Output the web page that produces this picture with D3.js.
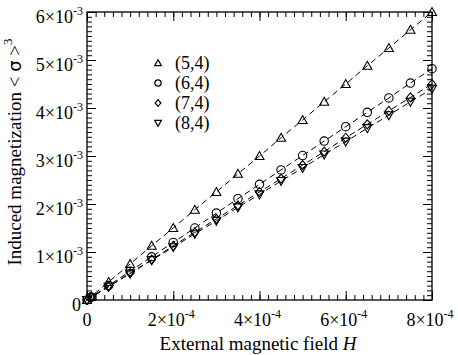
<!DOCTYPE html>
<html>
<head>
<meta charset="utf-8">
<script src="https://cdn.jsdelivr.net/npm/d3@7"></script>
<style>
  body { margin: 0; background: #fff; }
  svg text { font-family: "Liberation Serif", "DejaVu Serif", serif; fill: #000; }
</style>
</head>
<body>
<div id="chart"></div>
<script>
// field values H (units of 1e-4)
var fieldH = [0, 0.1, 0.5, 1, 1.5, 2, 2.5, 3, 3.5, 4, 4.5, 5, 5.5, 6, 6.5, 7, 7.5, 8];
// induced magnetization (units of 1e-3)
var mag54 = [0, 0.075, 0.375, 0.75, 1.13, 1.5, 1.88, 2.25, 2.63, 3.0, 3.38, 3.75, 4.13, 4.5, 4.88, 5.25, 5.63, 6.0];
var mag64 = [0, 0.06, 0.3, 0.6, 0.9, 1.2, 1.5, 1.81, 2.11, 2.41, 2.71, 3.01, 3.31, 3.61, 3.91, 4.21, 4.52, 4.82];
var mag74 = [0, 0.056, 0.28, 0.56, 0.84, 1.13, 1.41, 1.69, 1.97, 2.25, 2.53, 2.81, 3.09, 3.38, 3.66, 3.94, 4.22, 4.5];
var mag84 = [0, 0.055, 0.275, 0.55, 0.83, 1.1, 1.38, 1.65, 1.93, 2.2, 2.48, 2.75, 3.03, 3.3, 3.58, 3.85, 4.13, 4.4];
var seriesNames = ["(5,4)", "(6,4)", "(7,4)", "(8,4)"];
var seriesShapes = ["triUp", "circle", "diamond", "triDown"];
var xTickVals = [0, 2, 4, 6, 8];
var yTickVals = [0, 1, 2, 3, 4, 5, 6];

var W = 458, H = 355;
var m = {left: 87, top: 12, right: 26, bottom: 55};
var w = W - m.left - m.right, h = H - m.top - m.bottom;

var svg = d3.select("#chart").append("svg").attr("width", W).attr("height", H);
var g = svg.append("g").attr("transform", "translate(" + m.left + "," + m.top + ")");

var x = d3.scaleLinear().domain([0, 8]).range([0, w]);
var y = d3.scaleLinear().domain([0, 6]).range([h, 0]);

// ticks, inward on all four sides
function tickAxis(axis, scale, vals, size, tr) {
  var a = g.append("g").attr("transform", tr)
    .call(axis(scale).tickValues(vals).tickSize(size).tickSizeOuter(0).tickFormat(""));
  a.select(".domain").remove();
  a.selectAll("line").attr("stroke", "#000").attr("stroke-width", 1);
}
var xMinor = d3.range(0, 8.001, 0.2);
var yMinor = d3.range(0, 6.001, 0.1);
tickAxis(d3.axisBottom, x, xMinor, -5, "translate(0," + h + ")");
tickAxis(d3.axisBottom, x, xTickVals, -9, "translate(0," + h + ")");
tickAxis(d3.axisTop, x, xMinor, -5, "translate(0,0)");
tickAxis(d3.axisTop, x, xTickVals, -9, "translate(0,0)");
tickAxis(d3.axisLeft, y, yMinor, -5, "translate(0,0)");
tickAxis(d3.axisLeft, y, yTickVals, -9, "translate(0,0)");
tickAxis(d3.axisRight, y, yMinor, -5, "translate(" + w + ",0)");
tickAxis(d3.axisRight, y, yTickVals, -9, "translate(" + w + ",0)");

g.append("rect").attr("width", w).attr("height", h)
  .attr("fill", "none").attr("stroke", "#000").attr("stroke-width", 1.3);

// tick labels with powers of ten
function sciLabel(sel, v, exp) {
  if (v === 0) { sel.text("0"); return; }
  sel.append("tspan").text(v + "\u00d710");
  sel.append("tspan").attr("dy", -8).attr("font-size", 12).text("-" + exp);
}
xTickVals.forEach(function(v) {
  var t = g.append("text").attr("x", x(v) + (v === 0 ? 0 : -2)).attr("y", h + 26)
    .attr("text-anchor", "middle").attr("font-size", 18);
  sciLabel(t, v, 4);
});
yTickVals.forEach(function(v) {
  var t = g.append("text").attr("x", v === 0 ? -6 : -4).attr("y", y(v) + 11)
    .attr("text-anchor", "end").attr("font-size", 18);
  sciLabel(t, v, 3);
});

// axis titles
var xt = svg.append("text").attr("x", 258).attr("y", 350)
  .attr("text-anchor", "middle").attr("font-size", 19);
xt.append("tspan").text("External magnetic field  ");
xt.append("tspan").attr("font-style", "italic").text("H");

var yt = svg.append("text").attr("transform", "translate(21,152) rotate(-90)")
  .attr("text-anchor", "middle").attr("font-size", 19);
yt.append("tspan").text("Induced magnetization  < ");
yt.append("tspan").attr("font-family", "DejaVu Sans").attr("font-size", 18).text("\u03c3");
yt.append("tspan").text(" >");
yt.append("tspan").attr("dy", -9).attr("font-size", 13).text("3");

// markers
function marker(sel, shape, s) {
  var p;
  if (shape === "circle") {
    return sel.append("circle").attr("r", 4.2 * s);
  }
  if (shape === "triUp") p = [[0, -4.5], [4.5, 3.5], [-4.5, 3.5]];
  if (shape === "triDown") p = [[0, 4.5], [4.5, -3.5], [-4.5, -3.5]];
  if (shape === "diamond") p = [[0, -4.5], [3.8, 0], [0, 4.5], [-3.8, 0]];
  return sel.append("path").attr("d", "M" + p.map(function(q) { return [q[0] * s, q[1] * s]; }).join("L") + "Z");
}

var allSeries = [mag54, mag64, mag74, mag84];
var line = d3.line().x(function(d, i) { return x(fieldH[i]); }).y(function(d) { return y(d); });

allSeries.forEach(function(vals, k) {
  g.append("path").datum(vals).attr("d", line)
    .attr("fill", "none").attr("stroke", "#000").attr("stroke-width", 1)
    .attr("stroke-dasharray", "6,4");
  vals.forEach(function(v, i) {
    var pt = g.append("g").attr("transform", "translate(" + x(fieldH[i]) + "," + y(v) + ")");
    marker(pt, seriesShapes[k], 1).attr("fill", "none").attr("stroke", "#000").attr("stroke-width", 1.1);
  });
});

// legend
seriesNames.forEach(function(n, k) {
  var ly = 63 + k * 20;
  var mk = svg.append("g").attr("transform", "translate(158," + ly + ")");
  marker(mk, seriesShapes[k], 0.75).attr("fill", "none").attr("stroke", "#000").attr("stroke-width", 1.2);
  svg.append("text").attr("x", 175).attr("y", ly + 6).attr("font-size", 18).text(n);
});
</script>
</body>
</html>
